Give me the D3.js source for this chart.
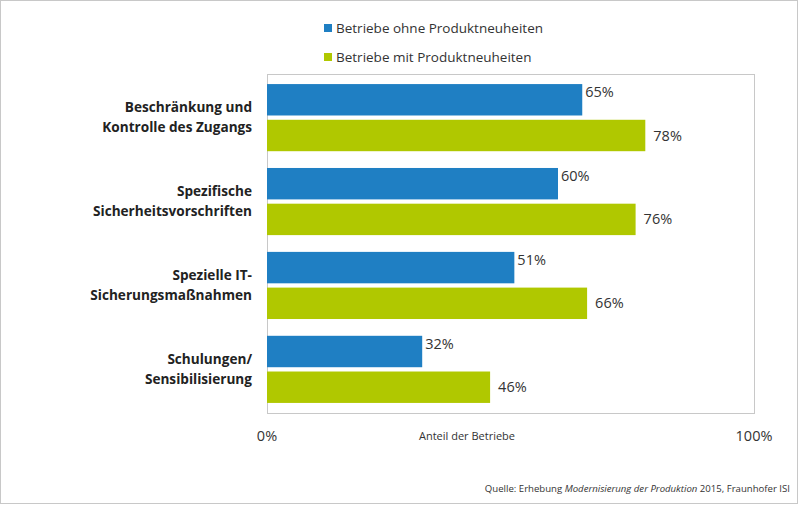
<!DOCTYPE html>
<html><head><meta charset="utf-8">
<script src="https://cdn.jsdelivr.net/npm/d3@7"></script>
<style>body{margin:0;background:#fff}svg{display:block}</style>
</head><body><svg id="c" width="799" height="505"></svg>
<script>
const categories = [["Beschränkung und","Kontrolle des Zugangs"],["Spezifische","Sicherheitsvorschriften"],["Spezielle IT-","Sicherungsmaßnahmen"],["Schulungen/","Sensibilisierung"]];
const seriesNames = ["Betriebe ohne Produktneuheiten","Betriebe mit Produktneuheiten"];
const ohne = [65,60,51,32];
const mit = [78,76,66,46];
const colors = ["#1f7fc3","#b0c800"];
const tickLabels = ["0%","100%"];

const svg = d3.select("#c");
const font = "'Open Sans', sans-serif";
svg.append("rect").attr("x",0.5).attr("y",0.5).attr("width",797).attr("height",503).attr("fill","#fff").attr("stroke","#c8c8c8");

const L=267, R=752, T=74, B=413;
const x = d3.scaleLinear().domain([0,100]).range([L,R]);
const y = d3.scaleBand().domain(d3.range(categories.length)).range([T,B]).paddingInner(0.2).paddingOuter(0.12);
const sub = d3.scaleBand().domain([0,1]).range([0,y.bandwidth()]).paddingInner(0.12);

svg.append("rect").attr("x",L+0.5).attr("y",T+0.5).attr("width",754-L).attr("height",B-T).attr("fill","none").attr("stroke","#c8c8c8");

const data = [ohne,mit];
data.forEach((vals,si)=>{
  const g = svg.append("g");
  g.selectAll("rect").data(vals).join("rect")
    .attr("x",x(0)).attr("y",(d,i)=>y(i)+sub(si)).attr("width",d=>x(d)-x(0)).attr("height",sub.bandwidth()).attr("fill",colors[si]);
  g.selectAll("text").data(vals).join("text")
    .attr("x",d=>x(d)+(si===0?3:8)).attr("y",(d,i)=>y(i)+sub(si)+sub.bandwidth()/2+(si===0?-8:0))
    .attr("dy","0.35em").attr("font-family",font).attr("font-size",14.5).attr("fill","#333").text(d=>d+"%");
});

categories.forEach((lines,i)=>{
  const cy = y(i)+y.bandwidth()/2;
  const t = svg.append("text").attr("x",252).attr("text-anchor","end").attr("font-family",font).attr("font-weight","bold").attr("font-size",13.6).attr("fill","#222");
  lines.forEach((ln,j)=>t.append("tspan").attr("x",252).attr("y",cy+(j-0.5)*20).attr("dy","0.35em").text(ln));
});

// axis labels
svg.append("text").attr("x",x(0)).attr("y",436).attr("text-anchor","middle").attr("dy","0.35em").attr("font-family",font).attr("font-size",14.5).attr("fill","#333").text(tickLabels[0]);
svg.append("text").attr("x",x(100)+2).attr("y",436).attr("text-anchor","middle").attr("dy","0.35em").attr("font-family",font).attr("font-size",14.5).attr("fill","#333").text(tickLabels[1]);
svg.append("text").attr("x",467).attr("y",436).attr("text-anchor","middle").attr("dy","0.35em").attr("font-family",font).attr("font-size",11).attr("fill","#333").text("Anteil der Betriebe");

// legend
seriesNames.forEach((n,i)=>{
  const ly = 28+i*29;
  svg.append("rect").attr("x",324).attr("y",ly-4).attr("width",8).attr("height",8).attr("fill",colors[i]);
  svg.append("text").attr("x",336).attr("y",ly).attr("dy","0.35em").attr("font-family",font).attr("font-size",13.5).attr("fill","#333").text(n);
});

// source
const s = svg.append("text").attr("x",790).attr("y",492).attr("text-anchor","end").attr("font-family",font).attr("font-size",9.6).attr("fill","#333");
s.append("tspan").text("Quelle: Erhebung ");
s.append("tspan").attr("font-style","italic").text("Modernisierung der Produktion");
s.append("tspan").text(" 2015, Fraunhofer ISI");
</script></body></html>
